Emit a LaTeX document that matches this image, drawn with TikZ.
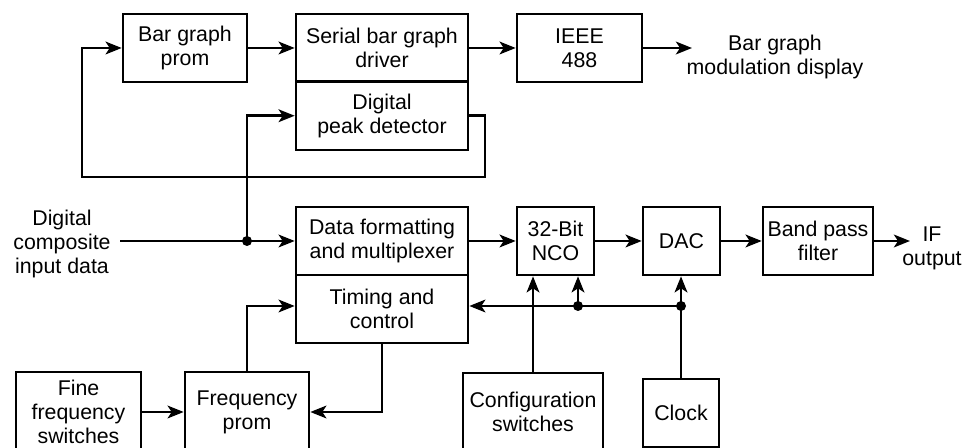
\documentclass[tikz,border=0pt]{standalone}
\usepackage{fontspec}
\setmainfont{Liberation Sans}
\usetikzlibrary{arrows.meta}
\begin{document}
\begin{tikzpicture}[x=0.75pt,y=-0.75pt,
  box/.style={draw, line width=2pt, inner sep=0pt, align=center, font=\fontsize{16}{18}\selectfont},
  lbl/.style={inner sep=0pt, align=center, font=\fontsize{16}{18}\selectfont},
  conn/.style={line width=2pt},
  arr/.style={line width=2pt, -{Stealth[length=12pt,width=9.5pt,inset=3pt]}},
  dot/.style={fill=black}]
\useasboundingbox (0,0) rectangle (974,448);
\clip (0,0) rectangle (974,448);
% top row
\node[box, minimum width=93pt, minimum height=51pt] (bgp) at (185,48) {Bar graph\\prom};
\node[box, minimum width=129pt, minimum height=50.6pt] (sbd) at (382,47.75) {Serial bar graph\\driver};
\node[box, minimum width=129pt, minimum height=51.4pt] (pd) at (382,115.75) {Digital\\peak detector};
\node[box, minimum width=93.75pt, minimum height=51pt] (ieee) at (579.5,48) {IEEE\\488};
\node[lbl] (bgmd) at (775,57) {Bar graph\\modulation display};
% middle row
\node[lbl] (din) at (62,244) {Digital\\composite\\input data};
\node[box, minimum width=129pt, minimum height=51pt] (dfm) at (382,241) {Data formatting\\and multiplexer};
\node[box, minimum width=129pt, minimum height=51pt] (tc) at (382,309) {Timing and\\control};
\node[box, minimum width=57.75pt, minimum height=51pt] (nco) at (555.5,241) {32-Bit\\NCO};
\node[box, minimum width=57.75pt, minimum height=51pt] (dac) at (681.5,241) {DAC};
\node[box, minimum width=82.5pt, minimum height=51pt] (bpf) at (818,241) {Band pass\\filter};
\node[lbl] (ifo) at (932,248) {IF\\output};
% bottom row
\node[box, minimum width=93.75pt, minimum height=60pt] (ffs) at (78.5,412) {Fine\\frequency\\switches};
\node[box, minimum width=93pt, minimum height=60pt] (fp) at (247,412) {Frequency\\prom};
\node[box, minimum width=105pt, minimum height=58.5pt] (cs) at (533,412) {Configuration\\switches};
\node[box, minimum width=57pt, minimum height=51pt] (clk) at (681,413) {Clock};
% coordinates
\coordinate (inS) at (120,241);
\coordinate (j1) at (247,241);
\coordinate (lr) at (485,177);
\coordinate (ll) at (82,177);
\coordinate (outE) at (692,48);
\coordinate (ifE) at (910,241);
\coordinate (b1) at (578,306);
\coordinate (b2) at (681,306);
% connectors
\draw[conn] (inS) -- (j1);
\draw[arr] (j1) -- (j1 -| dfm.west);
\draw[arr] (j1) |- (pd.west);
\draw[arr] (pd.east) -| (lr) -- (ll) |- (bgp.west);
\draw[arr] (bgp.east) -- (bgp.east -| sbd.west);
\draw[arr] (sbd.east |- ieee.west) -- (ieee.west);
\draw[arr] (ieee.east) -- (outE);
\draw[arr] (dfm.east) -- (nco.west);
\draw[arr] (nco.east) -- (dac.west);
\draw[arr] (dac.east) -- (bpf.west);
\draw[arr] (bpf.east) -- (ifE);
\draw[conn] (clk.north) -- (b2);
\draw[arr] (b2) -- (b2 |- dac.south);
\draw[arr] (b2) -- (b2 -| tc.east);
\draw[arr] (b1) -- (b1 |- nco.south);
\draw[arr] (cs.north) -- (cs.north |- nco.south);
\draw[arr] (fp.north) |- (b1 -| tc.west);
\draw[arr] (tc.south) |- (fp.east);
\draw[arr] (ffs.east) -- (fp.west);
\fill[dot] (j1) circle (3.75pt);
\fill[dot] (b1) circle (3.75pt);
\fill[dot] (b2) circle (3.75pt);
\end{tikzpicture}
\end{document}
